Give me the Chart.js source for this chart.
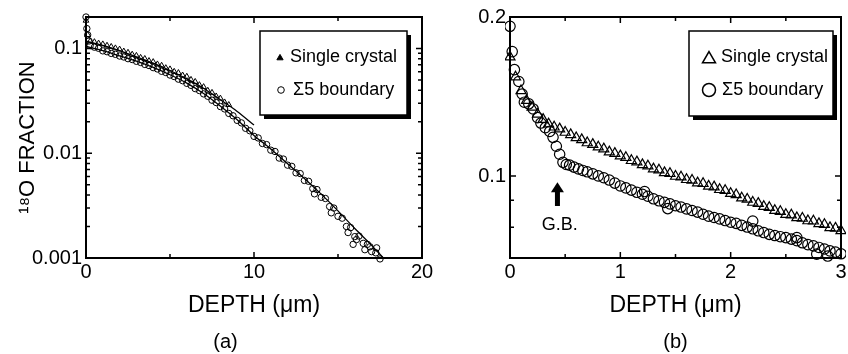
<!DOCTYPE html>
<html>
<head>
<meta charset="utf-8">
<script src="https://cdn.jsdelivr.net/npm/chart.js@4.4.1/dist/chart.umd.min.js"></script>
<style>
html,body{margin:0;padding:0;background:#fff;overflow:hidden;}
#wrap{position:relative;width:848px;height:354px;}
#chartA{position:absolute;left:0;top:0;}
#chartB{position:absolute;left:424px;top:0;}
</style>
</head>
<body>
<div id="wrap">
<canvas id="chartA" width="472" height="354"></canvas>
<canvas id="chartB" width="424" height="354"></canvas>
</div>
<script>
// ---- panel (a): 0-20 um, log scale ----
var aCrystalDepth=[0,0.1,0.25,0.5,0.75,1,1.25,1.5,1.75,2,2.25,2.5,2.75,3,3.25,3.5,3.75,4,4.25,4.5,4.75,5,5.25,5.5,5.75,6,6.25,6.5,6.75,7,7.25,7.5,7.75,8,8.25,8.5];
var aCrystalFrac=[0.185,0.135,0.1175,0.1155,0.112,0.11,0.1068,0.104,0.1008,0.0982,0.094,0.0915,0.0878,0.0855,0.0818,0.0798,0.0763,0.0745,0.0708,0.0688,0.0652,0.0635,0.0602,0.0586,0.0555,0.054,0.0504,0.0482,0.0449,0.043,0.0397,0.0379,0.035,0.0334,0.0307,0.029];
var aBoundaryDepth=[0,0.05,0.1,0.18,0.25,0.5,0.75,1,1.25,1.5,1.75,2,2.25,2.5,2.75,3,3.25,3.5,3.75,4,4.25,4.5,4.75,5,5.25,5.5,5.75,6,6.25,6.5,6.75,7,7.25,7.5,7.75,8,8.25,8.5,8.75,9,9.25,9.5,9.75,10,10.25,10.5,10.75,11,11.25,11.5,11.75,12,12.25,12.5,12.75,13,13.25,13.5,13.75,14,14.25,14.5,14.75,15,15.25,15.5,15.75,16,16.25,16.5,16.75,17,17.25,17.5,13.6,14.6,15.6,15.9,16.1,16.6,16.9,17.3];
var aBoundaryFrac=[0.2,0.155,0.135,0.118,0.107,0.103,0.1005,0.095,0.0932,0.0898,0.088,0.0848,0.083,0.08,0.0785,0.0755,0.0736,0.0705,0.0688,0.0657,0.0638,0.0606,0.059,0.0558,0.054,0.051,0.0493,0.0465,0.0445,0.0414,0.0397,0.0369,0.035,0.0321,0.0305,0.0279,0.0265,0.024,0.0228,0.0206,0.0195,0.0173,0.0164,0.0145,0.014,0.0124,0.0121,0.0107,0.0104,0.009,0.0088,0.0077,0.0075,0.0065,0.0064,0.0055,0.0054,0.0046,0.0045,0.0038,0.0037,0.0031,0.003,0.0025,0.0024,0.002,0.00195,0.0016,0.00162,0.00138,0.00135,0.00115,0.00112,0.00098,0.0041,0.0027,0.00175,0.00135,0.0015,0.0012,0.00128,0.00125];
var aCrystalFitDepth=[0,1,2,3,4,5,6,7,8,9,10];
var aCrystalFitFrac=[0.1175,0.1072,0.0955,0.0832,0.0724,0.0617,0.0513,0.0417,0.0324,0.0251,0.0186];
var aBoundaryFitDepth=[0,1,2,3,4,5,6,7,8,9,10,11,12,13,14,15,16,17,17.7];
var aBoundaryFitFrac=[0.1047,0.0955,0.0851,0.0759,0.0661,0.0562,0.0468,0.0372,0.0282,0.0209,0.0148,0.011,0.00794,0.00575,0.00407,0.00282,0.00191,0.00132,0.001];
var aXTicks=[0,10,20];
var aXMinor=[5,15];
var aYTicks=[0.001,0.01,0.1];
var aYMinor=[0.002,0.003,0.004,0.005,0.006,0.007,0.008,0.009,0.02,0.03,0.04,0.05,0.06,0.07,0.08,0.09];

// ---- panel (b): 0-3 um ----
var bCrystalDepth=[0,0.05,0.1,0.15,0.2,0.25,0.3,0.35,0.4,0.45,0.5,0.55,0.6,0.65,0.7,0.75,0.8,0.85,0.9,0.95,1,1.05,1.1,1.15,1.2,1.25,1.3,1.35,1.4,1.45,1.5,1.55,1.6,1.65,1.7,1.75,1.8,1.85,1.9,1.95,2,2.05,2.1,2.15,2.2,2.25,2.3,2.35,2.4,2.45,2.5,2.55,2.6,2.65,2.7,2.75,2.8,2.85,2.9,2.95,3];
var bCrystalFrac=[0.168,0.154,0.145,0.139,0.135,0.131,0.128,0.1255,0.1238,0.1228,0.121,0.1198,0.1182,0.1172,0.1156,0.1148,0.1135,0.1126,0.1111,0.1104,0.1092,0.1084,0.107,0.1064,0.1051,0.1045,0.1032,0.1027,0.1015,0.1011,0.0999,0.0996,0.0985,0.0982,0.0971,0.0968,0.0957,0.0954,0.0943,0.0939,0.0927,0.0922,0.0909,0.0904,0.0892,0.0888,0.0876,0.0872,0.0861,0.0857,0.0846,0.0844,0.0834,0.0832,0.0823,0.0822,0.0813,0.081,0.0799,0.0797,0.0788];
var bBoundaryDepth=[0,0.02,0.04,0.08,0.11,0.13,0.17,0.21,0.25,0.28,0.32,0.36,0.39,0.42,0.45,0.48,0.51,0.54,0.58,0.62,0.66,0.7,0.75,0.8,0.85,0.9,0.95,1,1.05,1.1,1.15,1.2,1.25,1.3,1.35,1.4,1.45,1.5,1.55,1.6,1.65,1.7,1.75,1.8,1.85,1.9,1.95,2,2.05,2.1,2.15,2.2,2.25,2.3,2.35,2.4,2.45,2.5,2.55,2.6,2.65,2.7,2.75,2.8,2.85,2.9,2.95,3,1.22,1.43,2.2,2.6,2.78,2.88];
var bBoundaryFrac=[0.192,0.172,0.159,0.151,0.143,0.138,0.137,0.134,0.129,0.126,0.1235,0.1215,0.1184,0.1139,0.11,0.1062,0.1052,0.1049,0.104,0.1032,0.1025,0.1019,0.101,0.1001,0.0993,0.0983,0.097,0.0958,0.095,0.0941,0.0932,0.0924,0.0916,0.0906,0.0898,0.0892,0.0886,0.0879,0.0874,0.0867,0.0861,0.0855,0.0847,0.084,0.0835,0.083,0.0824,0.0818,0.0814,0.0807,0.0801,0.0795,0.0788,0.0782,0.0776,0.0772,0.0768,0.0765,0.076,0.0755,0.0748,0.0742,0.0738,0.0733,0.0728,0.0722,0.0718,0.0713,0.0935,0.0868,0.0822,0.0765,0.0712,0.0706];
var bXTicks=[0,1,2,3];
var bXMinor=[0.5,1.5,2.5];
var bYTicks=[0.1,0.2];
var bYMinor=[0.08,0.09];
// grain boundary marker
var gbDepth=0.43, gbArrowTip=0.0974, gbArrowBase=0.0878, gbLabelDepth=0.45, gbLabelFrac=0.0809;

Chart.defaults.font.family="'Liberation Sans', Arial, sans-serif";
Chart.defaults.font.size=20;
Chart.defaults.color="#000";

function pairs(xs, ys){
  return xs.map(function(x, i){ return {x: x, y: ys[i]}; });
}

function frameTicks(xMajor, xMinor, yMajor, yMinor){
  return {
    id: "frameTicks",
    afterDatasetsDraw: function(chart){
      var ctx=chart.ctx, a=chart.chartArea, xs=chart.scales.x, ys=chart.scales.y;
      ctx.save();
      ctx.strokeStyle="#000";
      ctx.lineWidth=1.5;
      ctx.beginPath();
      function xt(v, len){
        var p=xs.getPixelForValue(v);
        ctx.moveTo(p, a.bottom); ctx.lineTo(p, a.bottom-len);
        ctx.moveTo(p, a.top); ctx.lineTo(p, a.top+len);
      }
      function yt(v, len){
        var p=ys.getPixelForValue(v);
        ctx.moveTo(a.left, p); ctx.lineTo(a.left+len, p);
        ctx.moveTo(a.right, p); ctx.lineTo(a.right-len, p);
      }
      xMajor.forEach(function(v){ xt(v, 6); });
      xMinor.forEach(function(v){ xt(v, 4); });
      yMajor.forEach(function(v){ yt(v, 6); });
      yMinor.forEach(function(v){ yt(v, 4); });
      ctx.stroke();
      ctx.lineWidth=2;
      ctx.strokeRect(a.left, a.top, a.right-a.left, a.bottom-a.top);
      ctx.restore();
    }
  };
}

function boxLegend(box, items){
  return {
    id: "boxLegend",
    afterDraw: function(chart){
      var ctx=chart.ctx;
      ctx.save();
      ctx.fillStyle="#000";
      ctx.fillRect(box.x+4, box.y+4, box.w, box.h);
      ctx.fillStyle="#fff";
      ctx.fillRect(box.x, box.y, box.w, box.h);
      ctx.strokeStyle="#000";
      ctx.lineWidth=1.5;
      ctx.strokeRect(box.x, box.y, box.w, box.h);
      items.forEach(function(it){
        ctx.fillStyle=it.fill;
        ctx.strokeStyle="#000";
        ctx.lineWidth=it.lw;
        Chart.helpers.drawPoint(ctx, {pointStyle: it.style, radius: it.r, rotation: 0, borderWidth: it.lw}, it.x, it.y);
        ctx.fillStyle="#000";
        ctx.font="18px 'Liberation Sans', Arial, sans-serif";
        ctx.textAlign="left";
        ctx.textBaseline="middle";
        ctx.fillText(it.label, it.tx, it.ty);
      });
      ctx.restore();
    }
  };
}

var gbMarker={
  id: "gbMarker",
  afterDatasetsDraw: function(chart){
    var ctx=chart.ctx, xs=chart.scales.x, ys=chart.scales.y;
    var x=xs.getPixelForValue(gbDepth), tip=ys.getPixelForValue(gbArrowTip), base=ys.getPixelForValue(gbArrowBase);
    ctx.save();
    ctx.fillStyle="#000";
    ctx.fillRect(x-2.5, tip+9, 5, base-tip-9);
    ctx.beginPath();
    ctx.moveTo(x, tip);
    ctx.lineTo(x-6.5, tip+10);
    ctx.lineTo(x+6.5, tip+10);
    ctx.closePath();
    ctx.fill();
    ctx.font="18px 'Liberation Sans', Arial, sans-serif";
    ctx.textAlign="center";
    ctx.textBaseline="middle";
    ctx.fillText("G.B.", xs.getPixelForValue(gbLabelDepth), ys.getPixelForValue(gbLabelFrac));
    ctx.restore();
  }
};

function xScale(min, max, ticks, title){
  return {
    type: "linear", min: min, max: max,
    grid: {display: false, drawTicks: false},
    border: {display: false},
    ticks: {padding: 2, color: "#000", maxRotation: 0, autoSkip: false},
    afterBuildTicks: function(s){ s.ticks=ticks.map(function(v){ return {value: v}; }); },
    afterFit: function(s){ s.height=72; s.paddingLeft=0; s.paddingRight=0; },
    title: {display: true, text: title, font: {size: 23}, padding: {top: 0, bottom: 11}, color: "#000"}
  };
}

function yScale(min, max, ticks, width, title, titlePad){
  var sc={
    type: "logarithmic", min: min, max: max,
    grid: {display: false, drawTicks: false},
    border: {display: false},
    ticks: {padding: 4, color: "#000", autoSkip: false, callback: function(v){ return String(v); }},
    afterBuildTicks: function(s){ s.ticks=ticks.map(function(v){ return {value: v}; }); },
    afterFit: function(s){ s.width=width; s.paddingTop=0; s.paddingBottom=0; }
  };
  if(title){
    sc.title={display: true, text: title, font: {size: 22}, padding: {top: titlePad, bottom: 0}, color: "#000"};
  }
  return sc;
}

function pointSet(label, xs, ys, style, r, lw){
  return {label: label, data: pairs(xs, ys), showLine: false, pointStyle: style, pointRadius: r, borderColor: "#000", backgroundColor: "rgba(0,0,0,0)", borderWidth: lw, clip: 5};
}
function fitSet(label, xs, ys){
  return {label: label, data: pairs(xs, ys), showLine: true, pointRadius: 0, borderColor: "#000", borderWidth: 1.3, cubicInterpolationMode: "monotone", fill: false, clip: 2};
}

var chartA=new Chart(document.getElementById("chartA"), {
  type: "scatter",
  data: {datasets: [
    pointSet("Single crystal", aCrystalDepth, aCrystalFrac, "triangle", 3.3, 1),
    pointSet("\u03A35 boundary", aBoundaryDepth, aBoundaryFrac, "circle", 3.2, 1),
    fitSet("Single crystal fit", aCrystalFitDepth, aCrystalFitFrac),
    fitSet("\u03A35 boundary fit", aBoundaryFitDepth, aBoundaryFitFrac)
  ]},
  options: {
    responsive: false, animation: false, events: [],
    layout: {padding: {top: 17, right: 50, left: 29, bottom: 0}},
    plugins: {
      legend: {display: false}, tooltip: {enabled: false},
      title: {display: true, position: "bottom", text: "(a)", font: {size: 20, weight: "normal"}, padding: 0, color: "#000"}
    },
    scales: {
      x: xScale(0, 20, aXTicks, "DEPTH (\u03BCm)"),
      y: yScale(0.001, 0.2, aYTicks, 57, "\u00B9\u2078O FRACTION", -14)
    }
  },
  plugins: [frameTicks(aXTicks, aXMinor, aYTicks, aYMinor), boxLegend({x: 260, y: 31, w: 147, h: 84}, [
    {label: "Single crystal", style: "triangle", r: 3.6, fill: "#000", lw: 1, x: 280, y: 58, tx: 290, ty: 57},
    {label: "\u03A35 boundary", style: "circle", r: 3.3, fill: "#fff", lw: 1, x: 281, y: 90, tx: 293, ty: 90}
  ])]
});

var chartB=new Chart(document.getElementById("chartB"), {
  type: "scatter",
  data: {datasets: [
    pointSet("Single crystal", bCrystalDepth, bCrystalFrac, "triangle", 5.8, 1.2),
    pointSet("\u03A35 boundary", bBoundaryDepth, bBoundaryFrac, "circle", 5.2, 1.2)
  ]},
  options: {
    responsive: false, animation: false, events: [],
    layout: {padding: {top: 17, right: 1, left: 0, bottom: 0}},
    plugins: {
      legend: {display: false}, tooltip: {enabled: false},
      title: {display: true, position: "bottom", fullSize: false, text: "(b)", font: {size: 20, weight: "normal"}, padding: 0, color: "#000"}
    },
    scales: {
      x: xScale(0, 3, bXTicks, "DEPTH (\u03BCm)"),
      y: yScale(0.07, 0.2, bYTicks, 86, null, 0)
    }
  },
  plugins: [frameTicks(bXTicks, bXMinor, bYTicks, bYMinor), gbMarker, boxLegend({x: 265, y: 31, w: 144, h: 85}, [
    {label: "Single crystal", style: "triangle", r: 7.5, fill: "#fff", lw: 1.5, x: 285, y: 59, tx: 297, ty: 57},
    {label: "\u03A35 boundary", style: "circle", r: 6.5, fill: "#fff", lw: 1.5, x: 285, y: 90, tx: 298, ty: 90}
  ])]
});
</script>
</body>
</html>
